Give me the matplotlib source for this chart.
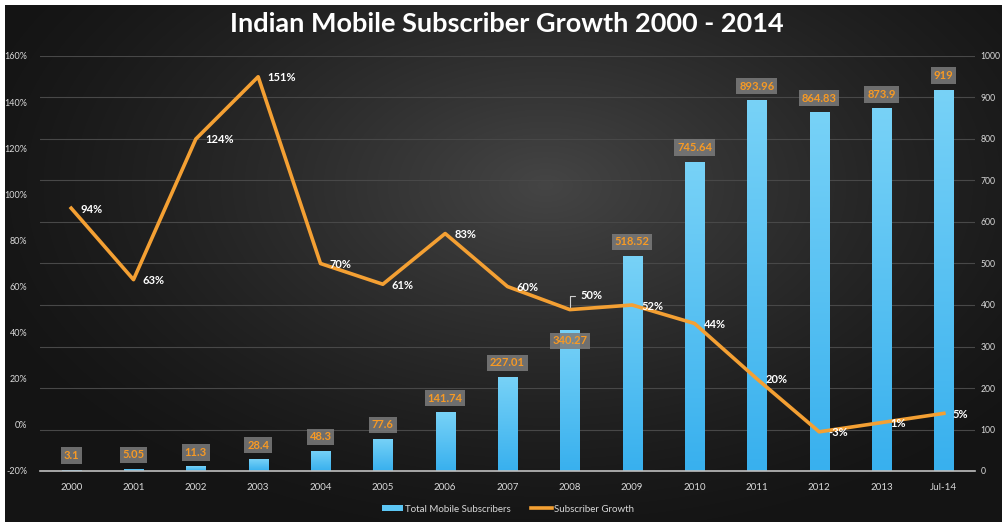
import numpy as np
import matplotlib
matplotlib.use("Agg")
import matplotlib.pyplot as plt
from matplotlib.colors import LinearSegmentedColormap
from matplotlib.lines import Line2D
from matplotlib.patches import Patch

# ---- data -------------------------------------------------------------
categories = ["2000", "2001", "2002", "2003", "2004", "2005", "2006", "2007",
              "2008", "2009", "2010", "2011", "2012", "2013", "Jul-14"]
subscribers = [3.1, 5.05, 11.3, 28.4, 48.3, 77.6, 141.74, 227.01,
               340.27, 518.52, 745.64, 893.96, 864.83, 873.9, 919]
subscriber_labels = ["3.1", "5.05", "11.3", "28.4", "48.3", "77.6", "141.74",
                     "227.01", "340.27", "518.52", "745.64", "893.96",
                     "864.83", "873.9", "919"]
growth_pct = [94, 63, 124, 151, 70, 61, 83, 60, 50, 52, 44, 20, -3, 1, 5]
left_ticks = [-20, 0, 20, 40, 60, 80, 100, 120, 140, 160]
right_ticks = [0, 100, 200, 300, 400, 500, 600, 700, 800, 900, 1000]

FONT = "Lato"
W, H = 1002, 522
fig = plt.figure(figsize=(W / 100, H / 100), dpi=100, facecolor="white")

# ---- dark radial background ------------------------------------------
bg = fig.add_axes([5 / W, 0, (W - 5) / W, (H - 5) / H])
bg.set_axis_off()
yy, xx = np.mgrid[0:517, 0:997]
cx, cy = 540, 180
d = np.sqrt(((xx - cx) / 600.0) ** 2 + ((yy - cy) / 360.0) ** 2)
lum = 0.08 + 0.19 * np.clip(1 - d, 0, 1) ** 1.3
bg.imshow(np.dstack([lum, lum, lum]), aspect="auto", interpolation="bilinear")

# ---- main axes --------------------------------------------------------
ax_bar = fig.add_axes([40 / W, 1 - 471 / H, 935 / W, 415 / H])
ax_bar.set_facecolor("none")
ax_line = ax_bar.twinx()
ax_line.set_facecolor("none")

x = np.arange(len(categories))
bar_w = 0.31

bars = ax_bar.bar(x, subscribers, width=bar_w, color="none", zorder=2)
grad_cmap = LinearSegmentedColormap.from_list("barblue", ["#38b0ee", "#78d2f7"])
grad = np.linspace(0, 1, 256).reshape(-1, 1)
for b in bars:
    x0, y0 = b.get_x(), b.get_y()
    im = ax_bar.imshow(grad, cmap=grad_cmap, origin="lower", aspect="auto",
                       extent=[x0, x0 + b.get_width(), y0, y0 + b.get_height()],
                       zorder=2)
    im.set_clip_path(b)

ax_bar.set_xlim(-0.5, len(categories) - 0.5)
ax_bar.set_ylim(0, 1000)
ax_bar.set_yticks(right_ticks)
ax_bar.yaxis.tick_right()
ax_bar.grid(axis="y", color="#484848", lw=0.8, zorder=0)
ax_bar.set_axisbelow(True)

# value boxes above the bars
for i, (v, s) in enumerate(zip(subscribers, subscriber_labels)):
    dy = 14 if v < 300 or v > 400 else -11
    ax_bar.annotate(s, (x[i], v), xytext=(0, dy), textcoords="offset pixels",
                    ha="center", va="center", fontsize=8, fontweight="bold",
                    color="#f79a25", family=FONT, zorder=5,
                    bbox=dict(boxstyle="square,pad=0.25", fc="#7c7c7c",
                              ec="none", alpha=0.85))

# growth line
ax_line.plot(x, growth_pct, color="#f4a033", lw=2.6, zorder=4,
             solid_joinstyle="round")
ax_line.set_ylim(-20, 160)
ax_line.set_yticks(left_ticks)
ax_line.set_yticklabels([f"{t}%" for t in left_ticks])
ax_line.yaxis.tick_left()
for i, g in enumerate(growth_pct):
    if categories[i] == "2008":
        ax_line.annotate(f"{g}%", (x[i], g), xytext=(11, 14),
                         textcoords="offset pixels", ha="left", va="center",
                         fontsize=8, fontweight="bold", color="white",
                         family=FONT, zorder=6,
                         arrowprops=dict(arrowstyle="-", color="#d0d0d0",
                                         lw=0.8, shrinkA=2, shrinkB=2,
                                         connectionstyle="angle,angleA=180,angleB=90,rad=0"))
    else:
        ax_line.annotate(f"{g}%", (x[i], g), xytext=(9, -1),
                         textcoords="offset pixels", ha="left", va="center",
                         fontsize=8, fontweight="bold", color="white",
                         family=FONT, zorder=6)

# axes styling
ax_bar.set_xticks(x)
ax_bar.set_xticklabels(categories)
for a in (ax_bar, ax_line):
    for sp in a.spines.values():
        sp.set_visible(False)
    a.tick_params(length=0, colors="#d9d9d9", labelsize=6.5)
    for lab in a.get_xticklabels() + a.get_yticklabels():
        lab.set_family(FONT)
ax_bar.tick_params(axis="x", labelsize=7)
ax_bar.tick_params(axis="y", labelsize=6.2)
ax_bar.spines["bottom"].set_visible(True)
ax_bar.spines["bottom"].set_color("#bfbfbf")
ax_bar.spines["bottom"].set_linewidth(1.2)
ax_bar.tick_params(axis="x", pad=9)
ax_bar.tick_params(axis="y", pad=4)
ax_line.tick_params(axis="y", pad=9)

# title
fig.text(0.506, 1 - 24 / H, "Indian Mobile Subscriber Growth 2000 - 2014",
         ha="center", va="center", color="white", fontsize=19.5,
         fontweight="bold", family=FONT)

# legend
handles = [Patch(facecolor="#5cc6f4", edgecolor="none"),
           Line2D([0], [0], color="#f4a033", lw=2.6)]
leg = fig.legend(handles, ["Total Mobile Subscribers", "Subscriber Growth"],
                 loc="center", bbox_to_anchor=(0.507, 1 - 509 / H), ncol=2,
                 frameon=False, handlelength=2.2, handleheight=0.5,
                 columnspacing=2.0, handletextpad=0.2,
                 prop={"family": FONT, "size": 7})
for t in leg.get_texts():
    t.set_color("#d9d9d9")

fig.savefig("out.png", dpi=100, facecolor="white")
